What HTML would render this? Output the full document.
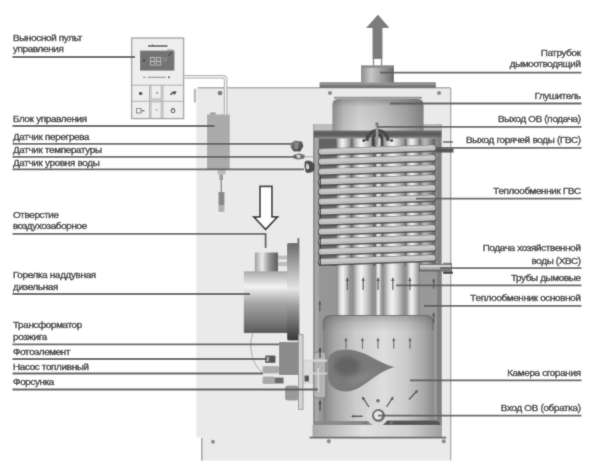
<!DOCTYPE html>
<html><head><meta charset="utf-8">
<style>
html,body{margin:0;padding:0;background:#fff;}
body{width:600px;height:466px;overflow:hidden;}
svg{display:block;}
text{font-family:"Liberation Sans",sans-serif;font-size:9.8px;fill:#383838;stroke:#383838;stroke-width:0.4px;}

</style></head><body>
<svg width="600" height="466" viewBox="0 0 600 466">
<defs>
<linearGradient id="gFlue" x1="0" x2="1" y1="0" y2="0">
 <stop offset="0" stop-color="#8a8a8a"/><stop offset="0.3" stop-color="#c8c8c8"/><stop offset="0.55" stop-color="#a8a8a8"/><stop offset="1" stop-color="#6a6a6a"/>
</linearGradient>
<linearGradient id="gPlate" x1="0" x2="0" y1="0" y2="1">
 <stop offset="0" stop-color="#9c9c9c"/><stop offset="0.5" stop-color="#8a8a8a"/><stop offset="1" stop-color="#5a5a5a"/>
</linearGradient>
<linearGradient id="gMuff" x1="0" x2="1" y1="0" y2="0">
 <stop offset="0" stop-color="#8e8e8e"/><stop offset="0.12" stop-color="#bdbdbd"/><stop offset="0.3" stop-color="#d6d6d6"/><stop offset="0.5" stop-color="#cacaca"/><stop offset="0.8" stop-color="#a6a6a6"/><stop offset="1" stop-color="#828282"/>
</linearGradient>
<linearGradient id="gMuffTop" x1="0" x2="0" y1="0" y2="1">
 <stop offset="0" stop-color="#555" stop-opacity="0.45"/><stop offset="0.25" stop-color="#555" stop-opacity="0.1"/><stop offset="1" stop-color="#555" stop-opacity="0"/>
</linearGradient>
<linearGradient id="gTube" x1="0" x2="1" y1="0" y2="0">
 <stop offset="0" stop-color="#858585"/><stop offset="0.25" stop-color="#d8d8d8"/><stop offset="0.42" stop-color="#f2f2f2"/><stop offset="0.65" stop-color="#d0d0d0"/><stop offset="1" stop-color="#868686"/>
</linearGradient>
<linearGradient id="gCoil" x1="0" x2="0" y1="0" y2="1">
 <stop offset="0" stop-color="#9a9a9a"/><stop offset="0.4" stop-color="#d4d4d4"/><stop offset="0.7" stop-color="#bdbdbd"/><stop offset="1" stop-color="#7a7a7a"/>
</linearGradient>
<linearGradient id="gChamber" x1="0" x2="1" y1="0" y2="0">
 <stop offset="0" stop-color="#828282"/><stop offset="0.1" stop-color="#a6a6a6"/><stop offset="0.3" stop-color="#cccccc"/><stop offset="0.55" stop-color="#dedede"/><stop offset="0.75" stop-color="#cbcbcb"/><stop offset="0.92" stop-color="#a6a6a6"/><stop offset="1" stop-color="#8a8a8a"/>
</linearGradient>
<linearGradient id="gChTop" x1="0" x2="0" y1="0" y2="1">
 <stop offset="0" stop-color="#444" stop-opacity="0.35"/><stop offset="0.08" stop-color="#444" stop-opacity="0.12"/><stop offset="0.16" stop-color="#444" stop-opacity="0"/><stop offset="1" stop-color="#444" stop-opacity="0"/>
</linearGradient>
<linearGradient id="gBase" x1="0" x2="1" y1="0" y2="0">
 <stop offset="0" stop-color="#a8a8a8"/><stop offset="0.4" stop-color="#e2e2e2"/><stop offset="0.75" stop-color="#cfcfcf"/><stop offset="1" stop-color="#a0a0a0"/>
</linearGradient>
<linearGradient id="gSens" x1="0" x2="1" y1="0" y2="1">
 <stop offset="0" stop-color="#8a8a8a"/><stop offset="0.5" stop-color="#5e5e5e"/><stop offset="1" stop-color="#3e3e3e"/>
</linearGradient>
<linearGradient id="gPipe" x1="0" x2="0" y1="0" y2="1">
 <stop offset="0" stop-color="#e0e0e0"/><stop offset="0.5" stop-color="#b8b8b8"/><stop offset="1" stop-color="#6e6e6e"/>
</linearGradient>
<linearGradient id="gLid2" x1="0" x2="0" y1="0" y2="1">
 <stop offset="0" stop-color="#6a6a6a"/><stop offset="0.5" stop-color="#5a5a5a"/><stop offset="1" stop-color="#7a7a7a"/>
</linearGradient>
<linearGradient id="gLid" x1="0" x2="0" y1="0" y2="1">
 <stop offset="0" stop-color="#c8c8c8"/><stop offset="0.45" stop-color="#a0a0a0"/><stop offset="0.55" stop-color="#6a6a6a"/><stop offset="1" stop-color="#555"/>
</linearGradient>
<linearGradient id="gBurner" x1="0" x2="0" y1="0" y2="1">
 <stop offset="0" stop-color="#a8a8a8"/><stop offset="0.25" stop-color="#f4f4f4"/><stop offset="0.5" stop-color="#a8a8a8"/><stop offset="0.8" stop-color="#7c7c7c"/><stop offset="1" stop-color="#585858"/>
</linearGradient>
<linearGradient id="gFlange" x1="0" x2="0" y1="0" y2="1">
 <stop offset="0" stop-color="#6a6a6a"/><stop offset="0.3" stop-color="#b8b8b8"/><stop offset="0.47" stop-color="#e6e6e6"/><stop offset="0.65" stop-color="#9a9a9a"/><stop offset="1" stop-color="#383838"/>
</linearGradient>
<linearGradient id="gSmallCyl" x1="0" x2="1" y1="0" y2="0">
 <stop offset="0" stop-color="#9e9e9e"/><stop offset="0.32" stop-color="#ececec"/><stop offset="0.45" stop-color="#c2c2c2"/><stop offset="0.65" stop-color="#8e8e8e"/><stop offset="1" stop-color="#5c5c5c"/>
</linearGradient>
<radialGradient id="gFlame" cx="0.4" cy="0.5" r="0.6">
 <stop offset="0" stop-color="#5c5c5c"/><stop offset="0.6" stop-color="#6e6e6e"/><stop offset="1" stop-color="#7c7c7c"/>
</radialGradient>
<filter id="blur1" x="-10%" y="-10%" width="120%" height="120%"><feGaussianBlur stdDeviation="0.7"/></filter><filter id="blur2" x="-20%" y="-20%" width="140%" height="140%"><feGaussianBlur stdDeviation="2.5"/></filter>
<filter id="soft" x="0" y="0" width="600" height="466" filterUnits="userSpaceOnUse"><feConvolveMatrix order="3" kernelMatrix="1 2 1 2 16 2 1 2 1" divisor="28" edgeMode="duplicate"/></filter></defs>
<g filter="url(#soft)"><rect width="600" height="466" fill="#fff"/><rect x="196.3" y="87.5" width="254.2" height="350" fill="#eaeaea"/><rect x="201" y="437" width="249.5" height="23.5" fill="#eaeaea"/><path d="M198 87.8 H450.5" stroke="#a8a8a8" stroke-width="1.6"/><path d="M450.7 88 V460.5" stroke="#a0a0a0" stroke-width="1.2"/><path d="M201.8 438 V460.5" stroke="#9a9a9a" stroke-width="1.4"/><rect x="193.8" y="88.8" width="2.2" height="13.7" fill="#b8b8b8"/><circle cx="220" cy="93.1" r="2.4" fill="#7a7a7a"/><circle cx="213" cy="441.8" r="2" fill="#8a8a8a"/><circle cx="330" cy="93" r="2.1" fill="#8a8a8a"/><circle cx="439" cy="93" r="2.1" fill="#8a8a8a"/><rect x="319.5" y="82" width="116.5" height="5.8" rx="1" fill="url(#gPlate)"/><rect x="361" y="65.5" width="33" height="17" fill="url(#gFlue)"/><rect x="361" y="65.5" width="33" height="2.2" fill="#8a8a8a"/><path d="M378 14.5 L389.5 28 H382.5 V59 H372.5 V28 H366 Z" fill="#7c7c7c"/><path d="M373.5 59 V65.5 M381.5 59 V65.5" stroke="#7c7c7c" stroke-width="1.3"/><rect x="313.8" y="124.4" width="127.7" height="313" fill="#969696"/><rect x="313.8" y="124.4" width="5" height="313" fill="#a6a6a6"/><rect x="313.3" y="124.4" width="1.2" height="313" fill="#7a7a7a"/><rect x="419" y="266" width="22.5" height="160" fill="#999999"/><rect x="437" y="124.4" width="4.5" height="313" fill="#808080"/><rect x="318.8" y="138" width="117.2" height="128" fill="#646464"/><rect x="336.5" y="138" width="14.5" height="178" fill="url(#gTube)"/><rect x="352.5" y="138" width="21.0" height="178" fill="url(#gTube)"/><rect x="375.5" y="138" width="6.5" height="178" fill="url(#gTube)"/><rect x="383" y="138" width="22" height="178" fill="url(#gTube)"/><rect x="406" y="138" width="13.5" height="178" fill="url(#gTube)"/><rect x="419.5" y="138" width="16.5" height="128" fill="#707070"/><rect x="420" y="138" width="12" height="128" fill="url(#gTube)" opacity="0.55"/><rect x="313.8" y="124.4" width="127.7" height="6.4" fill="#bdbdbd"/><path d="M332.4 131 V105 Q332.4 99 338.4 99 H417.6 Q423.6 99 423.6 105 V131 Z" fill="url(#gMuff)"/><path d="M332.4 131 V105 Q332.4 99 338.4 99 H417.6 Q423.6 99 423.6 105 V131 Z" fill="url(#gMuffTop)"/><rect x="334" y="96.8" width="88" height="1.8" fill="#8a8a8a"/><rect x="313.8" y="130.6" width="127.7" height="7.4" fill="url(#gLid2)"/><path d="M318.8 138 H436" stroke="#9a9a9a" stroke-width="1"/><path d="M321.5 152.20 L432.8 148.40" stroke="#4c4c4c" stroke-width="7.4" stroke-linecap="round"/><path d="M321.5 151.60 L432.8 147.80" stroke="#c0c0c0" stroke-width="5.6" stroke-linecap="round"/><path d="M322 150.70 L432 146.90" stroke="#cccccc" stroke-width="2" stroke-linecap="round"/><path d="M321.5 162.20 L432.8 158.40" stroke="#4c4c4c" stroke-width="7.4" stroke-linecap="round"/><path d="M321.5 161.60 L432.8 157.80" stroke="#c0c0c0" stroke-width="5.6" stroke-linecap="round"/><path d="M322 160.70 L432 156.90" stroke="#cccccc" stroke-width="2" stroke-linecap="round"/><path d="M321.5 172.20 L432.8 168.40" stroke="#4c4c4c" stroke-width="7.4" stroke-linecap="round"/><path d="M321.5 171.60 L432.8 167.80" stroke="#c0c0c0" stroke-width="5.6" stroke-linecap="round"/><path d="M322 170.70 L432 166.90" stroke="#cccccc" stroke-width="2" stroke-linecap="round"/><path d="M321.5 182.20 L432.8 178.40" stroke="#4c4c4c" stroke-width="7.4" stroke-linecap="round"/><path d="M321.5 181.60 L432.8 177.80" stroke="#c0c0c0" stroke-width="5.6" stroke-linecap="round"/><path d="M322 180.70 L432 176.90" stroke="#cccccc" stroke-width="2" stroke-linecap="round"/><path d="M321.5 192.20 L432.8 188.40" stroke="#4c4c4c" stroke-width="7.4" stroke-linecap="round"/><path d="M321.5 191.60 L432.8 187.80" stroke="#c0c0c0" stroke-width="5.6" stroke-linecap="round"/><path d="M322 190.70 L432 186.90" stroke="#cccccc" stroke-width="2" stroke-linecap="round"/><path d="M321.5 202.20 L432.8 198.40" stroke="#4c4c4c" stroke-width="7.4" stroke-linecap="round"/><path d="M321.5 201.60 L432.8 197.80" stroke="#c0c0c0" stroke-width="5.6" stroke-linecap="round"/><path d="M322 200.70 L432 196.90" stroke="#cccccc" stroke-width="2" stroke-linecap="round"/><path d="M321.5 212.20 L432.8 208.40" stroke="#4c4c4c" stroke-width="7.4" stroke-linecap="round"/><path d="M321.5 211.60 L432.8 207.80" stroke="#c0c0c0" stroke-width="5.6" stroke-linecap="round"/><path d="M322 210.70 L432 206.90" stroke="#cccccc" stroke-width="2" stroke-linecap="round"/><path d="M321.5 222.20 L432.8 218.40" stroke="#4c4c4c" stroke-width="7.4" stroke-linecap="round"/><path d="M321.5 221.60 L432.8 217.80" stroke="#c0c0c0" stroke-width="5.6" stroke-linecap="round"/><path d="M322 220.70 L432 216.90" stroke="#cccccc" stroke-width="2" stroke-linecap="round"/><path d="M321.5 232.20 L432.8 228.40" stroke="#4c4c4c" stroke-width="7.4" stroke-linecap="round"/><path d="M321.5 231.60 L432.8 227.80" stroke="#c0c0c0" stroke-width="5.6" stroke-linecap="round"/><path d="M322 230.70 L432 226.90" stroke="#cccccc" stroke-width="2" stroke-linecap="round"/><path d="M321.5 242.20 L432.8 238.40" stroke="#4c4c4c" stroke-width="7.4" stroke-linecap="round"/><path d="M321.5 241.60 L432.8 237.80" stroke="#c0c0c0" stroke-width="5.6" stroke-linecap="round"/><path d="M322 240.70 L432 236.90" stroke="#cccccc" stroke-width="2" stroke-linecap="round"/><path d="M321.5 252.20 L432.8 248.40" stroke="#4c4c4c" stroke-width="7.4" stroke-linecap="round"/><path d="M321.5 251.60 L432.8 247.80" stroke="#c0c0c0" stroke-width="5.6" stroke-linecap="round"/><path d="M322 250.70 L432 246.90" stroke="#cccccc" stroke-width="2" stroke-linecap="round"/><path d="M321.5 262.20 L432.8 258.40" stroke="#4c4c4c" stroke-width="7.4" stroke-linecap="round"/><path d="M321.5 261.60 L432.8 257.80" stroke="#c0c0c0" stroke-width="5.6" stroke-linecap="round"/><path d="M322 260.70 L432 256.90" stroke="#cccccc" stroke-width="2" stroke-linecap="round"/><path d="M320.3 176 V188" stroke="#3e3e3e" stroke-width="1.3"/><path d="M320.3 205 V218" stroke="#3e3e3e" stroke-width="1.3"/><path d="M320.3 237 V249" stroke="#3e3e3e" stroke-width="1.3"/><path d="M320.3 256 V266" stroke="#3e3e3e" stroke-width="1.3"/><path d="M367 141 A10.5 10.5 0 0 1 388 141" stroke="#4a4a4a" stroke-width="3.6" fill="none"/><path d="M373 146 V139 A4.5 4.5 0 0 1 382 139 V146" stroke="#3e3e3e" stroke-width="2.4" fill="none"/><rect x="375.8" y="123.5" width="2.5" height="22" fill="#9a9a9a"/><circle cx="377" cy="124" r="1.8" fill="#777"/><circle cx="363.8" cy="140.5" r="1.6" fill="#444"/><circle cx="391.7" cy="140.5" r="1.6" fill="#444"/><path d="M323 421 V323 Q323 315 331 315 H425.5 Q433.5 315 433.5 323 V421 Z" fill="url(#gChamber)"/><path d="M323 421 V323 Q323 315 331 315 H425.5 Q433.5 315 433.5 323 V421 Z" fill="url(#gChTop)"/><path d="M323.5 330 V323 Q323.5 315.5 331 315.5 H425.5 Q433 315.5 433 323 V330" stroke="#6e6e6e" stroke-width="1.2" fill="none"/><rect x="313.8" y="421" width="127.7" height="4" fill="#8a8a8a"/><path d="M386 420.5 H436 Q440 421 440.5 425 H383 Z" fill="#4a4a4a" opacity="0.85"/><rect x="312.5" y="425" width="128.75" height="12" fill="url(#gBase)"/><path d="M309.5 437.6 H446.3" stroke="#666" stroke-width="1.6"/><circle cx="328.8" cy="441.3" r="2.1" fill="#8a8a8a"/><circle cx="443.8" cy="441.3" r="2.1" fill="#8a8a8a"/><rect x="313.8" y="352" width="12" height="46" rx="3" fill="#b4b4b4" stroke="#7a7a7a" stroke-width="0.9"/><path d="M303 360.6 H327" stroke="#d6d6d6" stroke-width="2.2"/><path d="M311 373.5 H327" stroke="#d0d0d0" stroke-width="2"/><path d="M318.3 368 V392" stroke="#d8d8d8" stroke-width="1.6"/><path d="M320 358 V350" stroke="#444" stroke-width="1.3"/><path d="M318.3 351 L320 347 L321.7 351 Z" fill="#444"/><path d="M320 411 V403" stroke="#444" stroke-width="1.3"/><path d="M318.3 404 L320 400 L321.7 404 Z" fill="#444"/><path d="M328 362 C328 353 336 349.5 346 349.5 C358 349.5 368 355 378 360.5 C385 364 390 366 394.5 367 C388 369 382 372 374 377.5 C364 384.5 356 391.5 346 391.5 C336 391.5 328 386 328 376 Z" fill="#7a7a7a" filter="url(#blur1)"/><ellipse cx="347" cy="366" rx="13" ry="10" fill="#646464" filter="url(#blur2)"/><path d="M348 380 C358 376 370 372 382 368 C374 374 364 383 352 385 Z" fill="#8e8e8e" opacity="0.7" filter="url(#blur2)"/><circle cx="377.5" cy="415" r="11" fill="#dadada"/><circle cx="378.5" cy="415.5" r="6.5" fill="#6a6a6a"/><circle cx="378.2" cy="415.3" r="4.2" fill="#e6e6e6"/><path d="M346 348.8 V339.5" stroke="#626262" stroke-width="1.1"/><path d="M344.3 341 L346 337.5 L347.7 341 Z" fill="#626262"/><path d="M362.5 348.8 V339.5" stroke="#626262" stroke-width="1.1"/><path d="M360.8 341 L362.5 337.5 L364.2 341 Z" fill="#626262"/><path d="M378 348.8 V339.5" stroke="#626262" stroke-width="1.1"/><path d="M376.3 341 L378 337.5 L379.7 341 Z" fill="#626262"/><path d="M393.75 348.8 V339.5" stroke="#626262" stroke-width="1.1"/><path d="M392.05 341 L393.75 337.5 L395.45 341 Z" fill="#626262"/><path d="M410 348.8 V339.5" stroke="#626262" stroke-width="1.1"/><path d="M408.3 341 L410 337.5 L411.7 341 Z" fill="#626262"/><path d="M347.3 290 V280" stroke="#555" stroke-width="1.2"/><path d="M345.6 281 L347.3 277 L349.0 281 Z" fill="#555"/><path d="M363.2 290 V280" stroke="#555" stroke-width="1.2"/><path d="M361.5 281 L363.2 277 L364.9 281 Z" fill="#555"/><path d="M378.1 290 V280" stroke="#555" stroke-width="1.2"/><path d="M376.40000000000003 281 L378.1 277 L379.8 281 Z" fill="#555"/><path d="M392.8 290 V280" stroke="#555" stroke-width="1.2"/><path d="M391.1 281 L392.8 277 L394.5 281 Z" fill="#555"/><path d="M409.9 290 V280" stroke="#555" stroke-width="1.2"/><path d="M408.2 281 L409.9 277 L411.59999999999997 281 Z" fill="#555"/><path d="M319.8 311.5 V303.5" stroke="#555" stroke-width="1.2"/><path d="M318.2 304.5 L319.8 300.5 L321.40000000000003 304.5 Z" fill="#555"/><path d="M433.7 289 V281" stroke="#555" stroke-width="1.2"/><path d="M432.09999999999997 282 L433.7 278 L435.3 282 Z" fill="#555"/><path d="M433.7 323 V315" stroke="#555" stroke-width="1.2"/><path d="M432.09999999999997 316 L433.7 312 L435.3 316 Z" fill="#555"/><path d="M369.00 407.00 L363.78 399.16" stroke="#4e4e4e" stroke-width="1.3"/><path d="M362.00 396.50 L365.24 398.19 L362.31 400.14 Z" fill="#4e4e4e"/><path d="M386.50 407.00 L391.72 399.16" stroke="#4e4e4e" stroke-width="1.3"/><path d="M393.50 396.50 L393.19 400.14 L390.26 398.19 Z" fill="#4e4e4e"/><path d="M409.00 399.50 L415.80 392.32" stroke="#4e4e4e" stroke-width="1.3"/><path d="M418.00 390.00 L417.08 393.53 L414.52 391.11 Z" fill="#4e4e4e"/><path d="M362.50 416.30 L354.20 416.30" stroke="#4e4e4e" stroke-width="1.5"/><path d="M351.00 416.30 L354.20 414.54 L354.20 418.06 Z" fill="#4e4e4e"/><circle cx="378" cy="400.8" r="1.8" fill="#666"/><circle cx="365.5" cy="423" r="1.6" fill="#777"/><circle cx="391.3" cy="423" r="1.6" fill="#777"/><rect x="436" y="148.6" width="17.5" height="4" fill="#555"/><rect x="419.5" y="264.5" width="32" height="6.5" fill="url(#gPipe)" stroke="#5a5a5a" stroke-width="0.8"/><rect x="443" y="271.5" width="10" height="2.5" fill="#444"/><rect x="443" y="141.2" width="10" height="1.6" fill="#666"/><rect x="443" y="262.8" width="9" height="1.5" fill="#777"/><rect x="254.8" y="252.5" width="23.3" height="19.4" fill="url(#gSmallCyl)"/><rect x="278" y="255.6" width="9" height="3.8" fill="#bdbdbd"/><rect x="278" y="261.9" width="9" height="4.3" fill="#bdbdbd"/><rect x="243.8" y="271.3" width="43.2" height="61.8" fill="url(#gBurner)"/><rect x="287" y="243.1" width="12.4" height="97.5" rx="2" fill="url(#gFlange)"/><rect x="297.5" y="238" width="1.8" height="6" fill="#666"/><rect x="279" y="342" width="19.6" height="33" fill="#8c8c8c"/><rect x="298.6" y="334.5" width="4.4" height="75" fill="#d4d4d4" stroke="#8a8a8a" stroke-width="0.8"/><rect x="285" y="385.6" width="13.6" height="15" rx="3" fill="#9a9a9a"/><rect x="265" y="355.5" width="10.5" height="7.5" rx="1" fill="#555"/><rect x="266" y="357" width="3" height="4.5" fill="#aaa"/><rect x="262.6" y="366" width="16.4" height="7.6" rx="1.5" fill="#aaaaaa"/><rect x="262.6" y="376.6" width="12" height="7.4" rx="1.5" fill="#a8a8a8"/><rect x="274.6" y="377.5" width="9" height="6" fill="#6a6a6a"/><rect x="304" y="362" width="9" height="22" fill="#d8d8d8" opacity="0.8"/><rect x="304.5" y="375.5" width="4.5" height="6" fill="#555"/><path d="M253 333 C248 345 252 365 262 372" stroke="#999" stroke-width="0.8" fill="none"/><path d="M291 143 L295 140.5 L302 141.5 L303.5 146 L300.5 151.5 L293.5 151.5 L290.5 147 Z" fill="url(#gSens)"/><path d="M295 142.5 L299 142.5 L298 149 L294.5 149 Z" fill="#9a9a9a" opacity="0.7"/><path d="M300 156.8 H313.5" stroke="#b0b0b0" stroke-width="1.2"/><path d="M292.5 156 Q295 153 300 153.5 L304.5 155 Q305.5 157.5 303 159 L297 159.5 Q293 159 292.5 156 Z" fill="#6e6e6e"/><path d="M296 154.8 L300.5 155 L300 158 L296.5 158 Z" fill="#d0d0d0"/><path d="M305 161 Q311 159 314.5 164.5 L314.5 170 Q311 174.5 306 172.5 Q303.5 167 305 161 Z" fill="#4e4e4e"/><path d="M306.5 163.5 Q309.5 164 309 168.5 Q307 170 306 168 Z" fill="#d8d8d8"/><rect x="131.6" y="38" width="52" height="80.6" fill="#eeeeee" stroke="#a6a6a6" stroke-width="1.4"/><rect x="140" y="50.6" width="34.4" height="20" fill="#737373"/><path d="M131.6 85.2 H183.6 M131.6 101.3 H183.6 M149.5 85.2 V118.6 M151 85.2 V118.6 M161.3 85.2 V118.6 M163 85.2 V118.6" stroke="#a6a6a6" stroke-width="0.9"/><rect x="151" y="98.3" width="10.3" height="4.5" fill="#c6c6c6"/><path d="M148 46 H167.5" stroke="#555" stroke-width="1.6"/><path d="M152 44 L153.5 46" stroke="#555" stroke-width="0.8"/><rect x="167" y="49.6" width="6" height="1" fill="#888"/><rect x="150.5" y="57.5" width="4.2" height="3.8" fill="none" stroke="#b8b8b8" stroke-width="0.9"/><rect x="150.5" y="61.3" width="4.2" height="3.8" fill="none" stroke="#b8b8b8" stroke-width="0.9"/><rect x="156.5" y="57.5" width="4.2" height="3.8" fill="none" stroke="#b8b8b8" stroke-width="0.9"/><rect x="156.5" y="61.3" width="4.2" height="3.8" fill="none" stroke="#b8b8b8" stroke-width="0.9"/><rect x="143" y="59.5" width="2" height="2" fill="#3a3a3a"/><path d="M163 57 L165 62 L167 57" stroke="#9a9a9a" stroke-width="0.8" fill="none"/><path d="M168 56 L172 52.5" stroke="#3a3a3a" stroke-width="1"/><path d="M143 77.3 H145.5 M147.5 77.3 H165.5" stroke="#777" stroke-width="0.9"/><circle cx="169" cy="77.3" r="1.1" fill="#555"/><rect x="139" y="92" width="3.2" height="3" fill="#4a4a4a"/><circle cx="157" cy="92.8" r="0.9" fill="#666"/><path d="M170.5 95 Q172.5 91.5 175.5 92 L174 94.5" stroke="#3e3e3e" stroke-width="1.5" fill="none"/><rect x="136.5" y="108.5" width="4.5" height="4.5" fill="none" stroke="#666" stroke-width="0.8"/><path d="M141.5 110.7 H144.5" stroke="#555" stroke-width="1.2"/><path d="M155.5 110 H158" stroke="#888" stroke-width="0.8"/><circle cx="173" cy="110.8" r="1.9" fill="none" stroke="#4e4e4e" stroke-width="1.1"/><path d="M173 107.8 V109" stroke="#4e4e4e" stroke-width="0.8"/><path d="M184 76.7 H223 Q225.6 76.7 225.6 79.5 V114" stroke="#a8a8a8" stroke-width="3.6" fill="none"/><path d="M184 76.7 H223 Q225.6 76.7 225.6 79.5 V114" stroke="#f6f6f6" stroke-width="1.6" fill="none"/><rect x="207" y="114.4" width="22.8" height="54.8" fill="#ababab"/><rect x="210" y="112.5" width="5.6" height="2" fill="#999"/><rect x="217.5" y="169.5" width="8.1" height="4.9" fill="#bcbcbc"/><rect x="219.5" y="174.4" width="3.5" height="5.6" fill="#999"/><path d="M221.3 180 V192" stroke="#777" stroke-width="1.2"/><rect x="218.5" y="192" width="5.9" height="13" fill="#888"/><rect x="218.5" y="205" width="5.9" height="6.9" fill="#b0b0b0"/><path d="M260 186.3 H271.9 V216.9 H277.5 L265.6 229.4 L253.8 216.9 H260 Z" fill="#fff" stroke="#333" stroke-width="1.8" stroke-linejoin="miter"/>
<g fill="none" stroke="#5c5c5c" stroke-width="1.8"><path d="M12.5 57 H135"/><path d="M12.5 126 H214.5"/><path d="M12.5 143.8 H291"/><path d="M12.5 156.8 H297"/><path d="M12.5 169.3 H304"/><path d="M12.5 233.8 H265.6 V248"/><path d="M12.5 294 H250"/><path d="M12.5 344.3 H279"/><path d="M12.5 359 H267"/><path d="M12.5 373.5 H263"/><path d="M12.5 389.5 H318"/><path d="M581.5 72.6 H380"/><path d="M581.5 103.5 H390"/><path d="M581.5 126.9 H377"/><path d="M581.5 147.8 H436"/><path d="M581.5 198.6 H416"/><path d="M581.5 268.2 H440"/><path d="M581.5 285.3 H396"/><path d="M581.5 305.8 H424"/><path d="M581.5 380.3 H410"/><path d="M581.5 415.6 H378"/></g>
<text transform="translate(13.00,40.90) scale(1.0,1)" x="0" y="0" textLength="69.21" lengthAdjust="spacing">Выносной пульт</text><text transform="translate(13.00,52.10) scale(1.0,1)" x="0" y="0" textLength="50.73" lengthAdjust="spacing">управления</text><text transform="translate(13.00,121.60) scale(1.0,1)" x="0" y="0" textLength="74.08" lengthAdjust="spacing">Блок управления</text><text transform="translate(13.00,140.00) scale(1.0,1)" x="0" y="0" textLength="76.52" lengthAdjust="spacing">Датчик перегрева</text><text transform="translate(13.00,152.80) scale(1.0,1)" x="0" y="0" textLength="89.06" lengthAdjust="spacing">Датчик температуры</text><text transform="translate(13.00,165.60) scale(1.0,1)" x="0" y="0" textLength="86.72" lengthAdjust="spacing">Датчик уровня воды</text><text transform="translate(13.00,217.90) scale(1.0,1)" x="0" y="0" textLength="45.96" lengthAdjust="spacing">Отверстие</text><text transform="translate(13.00,229.20) scale(1.0,1)" x="0" y="0" textLength="74.24" lengthAdjust="spacing">воздухозаборное</text><text transform="translate(13.00,278.00) scale(1.0,1)" x="0" y="0" textLength="83.16" lengthAdjust="spacing">Горелка наддувная</text><text transform="translate(13.00,289.60) scale(1.0,1)" x="0" y="0" textLength="45.25" lengthAdjust="spacing">дизельная</text><text transform="translate(13.00,328.00) scale(1.0,1)" x="0" y="0" textLength="69.15" lengthAdjust="spacing">Трансформатор</text><text transform="translate(13.00,339.60) scale(1.0,1)" x="0" y="0" textLength="34.28" lengthAdjust="spacing">розжига</text><text transform="translate(13.00,354.80) scale(1.0,1)" x="0" y="0" textLength="57.47" lengthAdjust="spacing">Фотоэлемент</text><text transform="translate(13.00,369.80) scale(1.0,1)" x="0" y="0" textLength="76.00" lengthAdjust="spacing">Насос топливный</text><text transform="translate(13.00,385.20) scale(1.0,1)" x="0" y="0" textLength="41.30" lengthAdjust="spacing">Форсунка</text><text transform="translate(540.69,55.80) scale(1.0,1)" x="0" y="0" textLength="40.31" lengthAdjust="spacing">Патрубок</text><text transform="translate(509.77,67.20) scale(1.0,1)" x="0" y="0" textLength="71.23" lengthAdjust="spacing">дымоотводящий</text><text transform="translate(534.47,98.80) scale(1.0,1)" x="0" y="0" textLength="46.53" lengthAdjust="spacing">Глушитель</text><text transform="translate(497.95,122.40) scale(1.0,1)" x="0" y="0" textLength="83.05" lengthAdjust="spacing">Выход ОВ (подача)</text><text transform="translate(465.97,143.20) scale(1.0,1)" x="0" y="0" textLength="115.03" lengthAdjust="spacing">Выход горячей воды (ГВС)</text><text transform="translate(493.29,194.00) scale(1.0,1)" x="0" y="0" textLength="87.71" lengthAdjust="spacing">Теплообменник ГВС</text><text transform="translate(482.68,251.20) scale(1.0,1)" x="0" y="0" textLength="98.32" lengthAdjust="spacing">Подача хозяйственной</text><text transform="translate(531.49,263.60) scale(1.0,1)" x="0" y="0" textLength="49.51" lengthAdjust="spacing">воды (ХВС)</text><text transform="translate(510.94,281.20) scale(1.0,1)" x="0" y="0" textLength="70.06" lengthAdjust="spacing">Трубы дымовые</text><text transform="translate(470.37,301.00) scale(1.0,1)" x="0" y="0" textLength="110.63" lengthAdjust="spacing">Теплообменник основной</text><text transform="translate(507.18,375.80) scale(1.0,1)" x="0" y="0" textLength="73.82" lengthAdjust="spacing">Камера сгорания</text><text transform="translate(500.80,410.80) scale(1.0,1)" x="0" y="0" textLength="80.20" lengthAdjust="spacing">Вход ОВ (обратка)</text></g>
</svg>
</body></html>
